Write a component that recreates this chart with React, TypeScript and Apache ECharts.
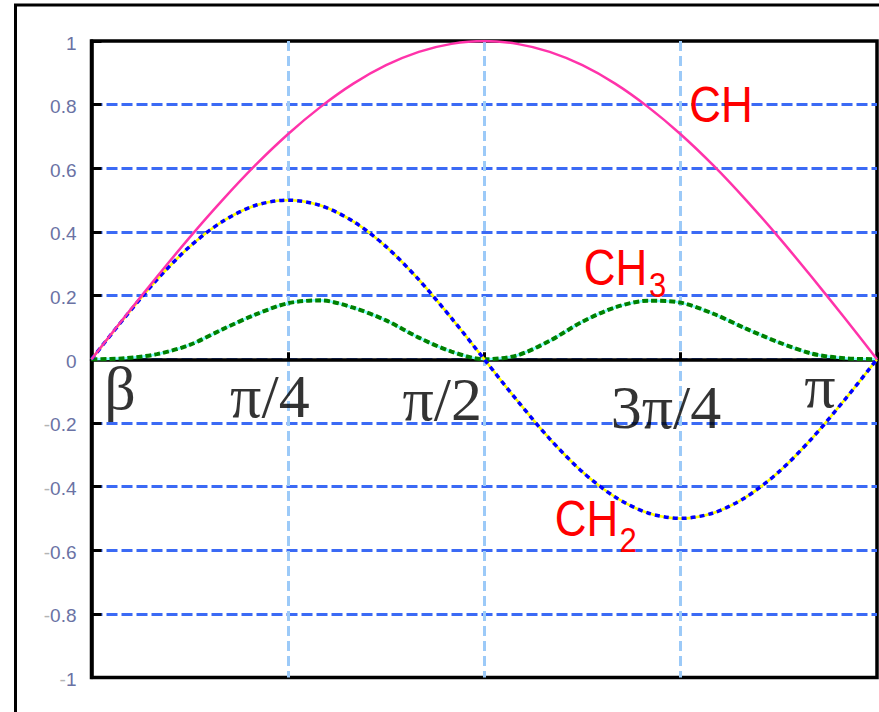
import React, { useEffect, useRef } from "react";
import * as echarts from "echarts";

// angle in degrees (0..180 = 0..π)
const degrees = [0, 7.5, 15, 22.5, 30, 37.5, 45, 52.5, 60, 67.5, 75, 82.5, 90, 97.5, 105, 112.5, 120, 127.5, 135, 142.5, 150, 157.5, 165, 172.5, 180];
const chValues = [0, 0.131, 0.259, 0.383, 0.5, 0.609, 0.707, 0.793, 0.866, 0.924, 0.966, 0.991, 1.0, 0.991, 0.966, 0.924, 0.866, 0.793, 0.707, 0.609, 0.5, 0.383, 0.259, 0.131, 0];
const ch2Values = [0, 0.129, 0.25, 0.354, 0.433, 0.483, 0.5, 0.483, 0.433, 0.354, 0.25, 0.129, 0, -0.129, -0.25, -0.354, -0.433, -0.483, -0.5, -0.483, -0.433, -0.354, -0.25, -0.129, 0];
const ch3Values = [0, 0.003, 0.016, 0.045, 0.094, 0.14, 0.176, 0.185, 0.162, 0.122, 0.068, 0.024, 0, 0.012, 0.058, 0.118, 0.163, 0.184, 0.178, 0.143, 0.096, 0.053, 0.018, 0.003, 0];

const tickDegrees = [0, 45, 90, 135, 180];
const tickLabels = ["β", "π/4", "π/2", "3π/4", "π"];
// pixel offsets of each tick label from its tick (layout only)
const tickLabelOffsets = [
  [28.5, 28.6],
  [-18, 36.6],
  [-42, 39.6],
  [-14.6, 47.6],
  [-57, 26.6],
];

const pts = (ys: number[]) => degrees.map((d, i) => [d, ys[i]]);

export default function App() {
  const ref = useRef<HTMLDivElement>(null);
  useEffect(() => {
    if (!ref.current) return;
    const chart = echarts.init(ref.current, null, { renderer: "svg" });
    const lineBase = {
      type: "line",
      smooth: 0.3,
      showSymbol: false,
      symbol: "none",
      silent: true,
    };
    const redText = (text: string, x: number, y: number, size: number) => ({
      type: "text",
      x,
      y,
      scaleY: 1.12,
      z: 100,
      style: {
        text,
        x: 0,
        y: 0,
        fill: "#ff0000",
        fontSize: size,
        fontFamily: "Liberation Sans, Arial, sans-serif",
        align: "center",
        verticalAlign: "middle",
      },
    });
    chart.setOption({
      animation: false,
      backgroundColor: "#ffffff",
      grid: {
        left: 91.5,
        top: 41,
        width: 785.5,
        height: 636.5,
        show: true,
        borderColor: "#000000",
        borderWidth: 3.5,
        backgroundColor: "transparent",
      },
      xAxis: {
        type: "value",
        min: 0,
        max: 180,
        interval: 45,
        z: 1,
        axisLine: { show: true, onZero: true, lineStyle: { color: "#000000", width: 3.5 } },
        axisTick: { show: true, inside: true, length: 7, lineStyle: { color: "#000000", width: 3 } },
        axisLabel: { show: false },
        splitLine: {
          show: true,
          showMinLine: false,
          showMaxLine: false,
          lineStyle: { color: "#9ccaf8", width: 3, type: [10, 5] },
        },
      },
      yAxis: {
        type: "value",
        min: -1,
        max: 1,
        interval: 0.2,
        z: 0,
        axisLine: { show: true, onZero: false, lineStyle: { color: "#000000", width: 3.5 } },
        axisTick: { show: true, inside: true, length: 10, lineStyle: { color: "#000000", width: 3 } },
        axisLabel: {
          margin: 15,
          padding: [4, 0, 0, 0],
          formatter: (v: number) => {
            const s = String(parseFloat(Math.abs(v).toFixed(1)));
            return v < -1e-9 ? "{m|-}{n|" + s + "}" : "{n|" + s + "}";
          },
          rich: {
            n: { fontSize: 19, color: "#6a72a4", fontFamily: "Liberation Sans, Arial, sans-serif" },
            m: { fontSize: 19, color: "#b4b4b4", fontFamily: "Liberation Sans, Arial, sans-serif" },
          },
        },
        splitLine: {
          show: true,
          showMinLine: false,
          showMaxLine: false,
          lineStyle: { color: "#3b6af5", width: 3, type: [11, 4] },
        },
      },
      series: [
        { ...lineBase, name: "CH3 base", data: pts(ch3Values), lineStyle: { color: "#80ffff", width: 2.5 } },
        { ...lineBase, name: "CH3", data: pts(ch3Values), lineStyle: { color: "#008000", width: 4, type: [6, 3] } },
        { ...lineBase, name: "CH2 base", data: pts(ch2Values), lineStyle: { color: "#ffff00", width: 2.5 } },
        { ...lineBase, name: "CH2", data: pts(ch2Values), lineStyle: { color: "#0000ff", width: 3.5, type: [5, 4] } },
        { ...lineBase, name: "CH", data: pts(chValues), lineStyle: { color: "#ff33aa", width: 2.5 } },
        {
          type: "scatter",
          name: "ticklabels",
          silent: true,
          symbolSize: 1,
          itemStyle: { color: "rgba(0,0,0,0)" },
          z: 5,
          data: tickDegrees.map((d, i) => ({
            value: [d, 0],
            label: {
              show: true,
              position: "inside",
              formatter: tickLabels[i],
              offset: tickLabelOffsets[i],
              align: "center",
              verticalAlign: "middle",
              fontSize: 62,
              fontFamily: "Liberation Serif, Times New Roman, serif",
              color: "#000000",
            },
          })),
        },
      ],
      graphic: [
        {
          type: "rect",
          z: 100,
          silent: true,
          shape: { x: 15.5, y: 5, width: 1000, height: 1000 },
          style: { fill: "none", stroke: "#000000", lineWidth: 3 },
        },
        redText("CH", 721, 105, 44),
        redText("CH", 615.5, 268.5, 44),
        redText("3", 657.5, 284.5, 31),
        redText("CH", 586.5, 519.5, 44),
        redText("2", 628, 539.5, 31),
      ],
    });
    return () => chart.dispose();
  }, []);
  return (
    <div
      ref={ref}
      style={{ position: "fixed", left: 0, top: 0, width: 879, height: 712, background: "#fff" }}
    />
  );
}
